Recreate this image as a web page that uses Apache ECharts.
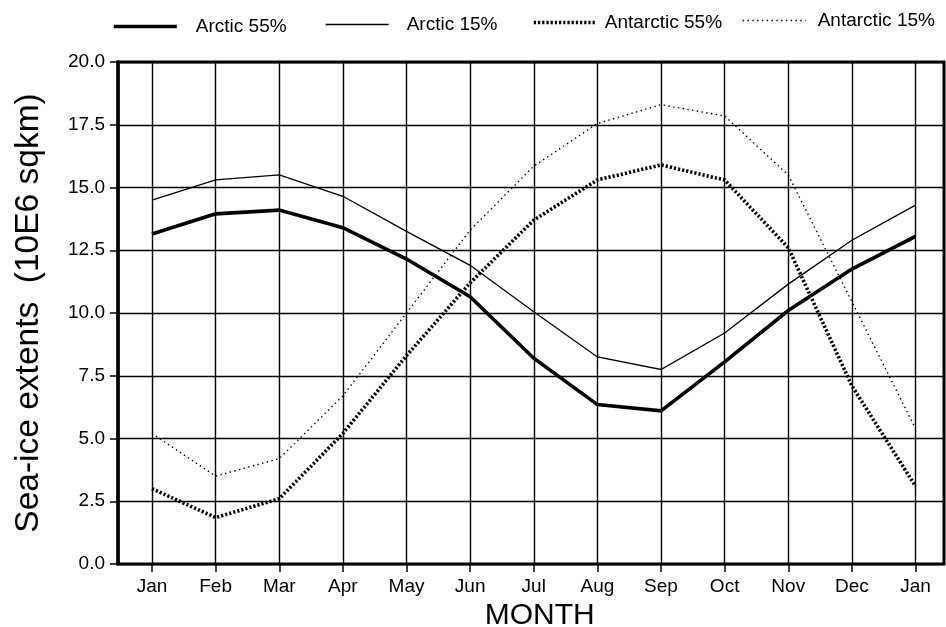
<!DOCTYPE html>
<html>
<head>
<meta charset="utf-8">
<title>Sea-ice extents</title>
<script src="https://cdn.jsdelivr.net/npm/echarts@6/dist/echarts.min.js"></script>
<style>
  html, body { margin: 0; padding: 0; background: #fff; }
  #chart { width: 946px; height: 627px; }
</style>
</head>
<body>
<div id="chart"></div>
<script>
// Monthly sea-ice extent (10^6 sq km), January through the following January
const months = ['Jan', 'Feb', 'Mar', 'Apr', 'May', 'Jun', 'Jul', 'Aug', 'Sep', 'Oct', 'Nov', 'Dec', 'Jan'];
const arctic55 = [13.15, 13.95, 14.1, 13.4, 12.15, 10.65, 8.2, 6.35, 6.1, 8.05, 10.1, 11.75, 13.05];
const arctic15 = [14.5, 15.3, 15.5, 14.65, 13.25, 11.9, 10.05, 8.25, 7.75, 9.2, 11.15, 12.9, 14.3];
const antarctic55 = [3.0, 1.85, 2.6, 5.2, 8.3, 11.2, 13.7, 15.3, 15.9, 15.3, 12.6, 7.1, 3.1];
const antarctic15 = [5.2, 3.5, 4.2, 6.7, 10.0, 13.3, 15.85, 17.55, 18.3, 17.85, 15.5, 10.45, 5.4];
const yTicks = { min: 0, max: 20, step: 2.5 };

const FONT = "'Liberation Sans', Arial, Helvetica, sans-serif";
const BLACK = '#000';

const seriesDefs = [
  { name: 'Arctic 55%', data: arctic55, width: 3.6, type: 'solid' },
  { name: 'Arctic 15%', data: arctic15, width: 1.3, type: 'solid' },
  { name: 'Antarctic 55%', data: antarctic55, width: 3.6, type: [2.2, 2.0] },
  { name: 'Antarctic 15%', data: antarctic15, width: 1.4, type: [1.4, 3.4] }
];

// one legend block per series so each entry sits at its own spot along the top
const legendSpots = [
  { left: 112, top: 17, pad: 14 },
  { left: 325, top: 15, pad: 13 },
  { left: 532, top: 13, pad: 3 },
  { left: 742, top: 11, pad: 7 }
];

const chart = echarts.init(document.getElementById('chart'), null, { renderer: 'canvas' });

const option = {
  backgroundColor: '#fff',
  animation: false,
  textStyle: { fontFamily: FONT, color: BLACK },
  legend: seriesDefs.map((s, i) => ({
    data: [s.name],
    left: legendSpots[i].left,
    top: legendSpots[i].top,
    itemWidth: 63,
    itemHeight: 12,
    padding: 0,
    selectedMode: false,
    itemStyle: { opacity: 0 },
    lineStyle: { color: BLACK, width: s.width, type: s.type, cap: 'butt' },
    textStyle: { fontSize: 19, fontFamily: FONT, color: BLACK, padding: [0, 0, 0, legendSpots[i].pad] }
  })),
  grid: [
    // outer frame with the value scale
    { left: 118, right: 2, top: 62, bottom: 63, outerBoundsMode: 'none', containLabel: false,
      show: true, borderColor: BLACK, borderWidth: 3, backgroundColor: 'transparent' },
    // month positions inside the frame
    { left: 152, right: 30.5, top: 62, bottom: 63, outerBoundsMode: 'none', containLabel: false }
  ],
  xAxis: [
    { gridIndex: 0, type: 'value', min: 0, max: 1, show: false },
    {
      gridIndex: 1,
      type: 'category',
      data: months,
      boundaryGap: false,
      axisLine: { show: false },
      axisTick: { show: true, length: 8, lineStyle: { color: BLACK, width: 1.5 } },
      axisLabel: { fontSize: 19, color: BLACK, fontFamily: FONT, margin: 13, interval: 0 },
      splitLine: { show: true, lineStyle: { color: BLACK, width: 1.4 } },
      name: 'MONTH',
      nameLocation: 'middle',
      nameGap: 35,
      nameTextStyle: { fontSize: 30, color: BLACK, fontFamily: FONT, padding: [0, 0, 0, 12] }
    }
  ],
  yAxis: [
    {
      gridIndex: 0,
      type: 'value',
      min: yTicks.min,
      max: yTicks.max,
      interval: yTicks.step,
      axisLine: { show: true, lineStyle: { color: BLACK, width: 3.5 } },
      axisTick: { show: true, length: 8, lineStyle: { color: BLACK, width: 1.5 } },
      axisLabel: { fontSize: 19, color: BLACK, fontFamily: FONT, margin: 13, formatter: v => v.toFixed(1) },
      splitLine: { show: true, lineStyle: { color: BLACK, width: 1.4 } },
      name: 'Sea-ice extents  (10E6 sqkm)',
      nameLocation: 'middle',
      nameGap: 72,
      nameTextStyle: { fontSize: 33.5, color: BLACK, fontFamily: FONT }
    },
    { gridIndex: 1, type: 'value', min: yTicks.min, max: yTicks.max, show: false }
  ],
  series: seriesDefs.map(s => ({
    name: s.name,
    type: 'line',
    xAxisIndex: 1,
    yAxisIndex: 1,
    data: s.data,
    symbol: 'none',
    smooth: false,
    itemStyle: { color: BLACK },
    lineStyle: { color: BLACK, width: s.width, type: s.type, cap: 'butt', join: 'miter' },
    z: 3
  }))
};

chart.setOption(option);
</script>
</body>
</html>
